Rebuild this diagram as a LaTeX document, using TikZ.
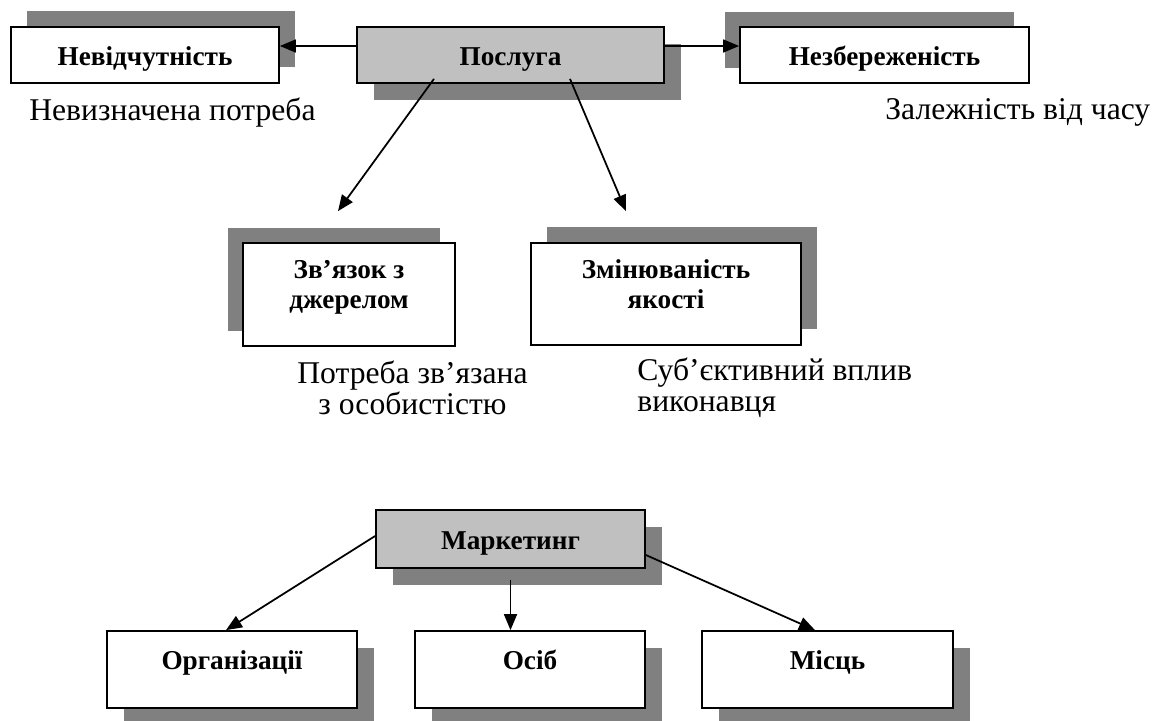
\documentclass[tikz,border=0pt]{standalone}
\usepackage{fontspec}
\setmainfont{Liberation Serif}
\usetikzlibrary{arrows.meta,shadows}
\definecolor{boxgray}{HTML}{C0C0C0}
\definecolor{shadegray}{HTML}{808080}
\tikzset{
  plainbox/.style={rectangle, draw, line width=1pt, fill=white, align=center,
    font=\fontsize{15.5}{17}\selectfont\bfseries},
  keybox/.style={plainbox, fill=boxgray},
  oneline/.style={text height=0.48cm, text depth=0.06cm},
  lowline/.style={text height=0.45cm, text depth=0.45cm},
  cast ne/.style={drop shadow={shadow xshift=0.32cm, shadow yshift=0.32cm, opacity=1, fill=shadegray}},
  cast nw/.style={drop shadow={shadow xshift=-0.31cm, shadow yshift=0.31cm, opacity=1, fill=shadegray}},
  cast se/.style={drop shadow={shadow xshift=0.33cm, shadow yshift=-0.33cm, opacity=1, fill=shadegray}},
  remark/.style={font=\fontsize{18}{17.6}\selectfont, inner sep=0pt},
  link/.style={line width=1pt, -{Triangle[length=0.32cm, width=0.26cm]}}
}
\begin{document}
\begin{tikzpicture}
  \useasboundingbox (0, 0) rectangle (23.3, -14.4);
  % Nodes
  \node (SERV) [keybox, oneline, cast se, minimum width=6.14cm, minimum height=1.12cm] at (10.21, -1.1) {Послуга};
  \node (INTANG) [plainbox, oneline, cast ne, minimum width=5.36cm, minimum height=1.12cm] at (2.9, -1.1) {Невідчутність};
  \node (PERISH) [plainbox, oneline, cast nw, minimum width=5.78cm, minimum height=1.12cm] at (17.69, -1.1) {Незбереженість};
  \node (INSEP) [plainbox, cast nw, minimum width=4.24cm, minimum height=2.06cm] at (6.98, -5.89) {Зв’язок з\\джерелом\\[-0.2cm]};
  \node (VAR) [plainbox, cast ne, minimum width=5.4cm, minimum height=2.04cm] at (13.32, -5.88) {Змінюваність\\якості\\[-0.2cm]};
  \node (MKT) [keybox, oneline, cast se, minimum width=5.38cm, minimum height=1.16cm] at (10.21, -10.78) {Маркетинг};
  \node (ORG) [plainbox, lowline, cast se, minimum width=5cm, minimum height=1.54cm] at (4.64, -13.39) {Організації};
  \node (PERS) [plainbox, lowline, cast se, minimum width=4.6cm, minimum height=1.54cm] at (10.6, -13.39) {Осіб};
  \node (PLACE) [plainbox, lowline, cast se, minimum width=5.02cm, minimum height=1.54cm] at (16.55, -13.39) {Місць};
  % Notes under the boxes
  \node (NEED) [remark, anchor=west] at (0.58, -2.26) {Невизначена потреба};
  \node (TIME) [remark, anchor=west] at (17.7, -2.24) {Залежність від часу};
  \node (PERSONAL) [remark, align=center] at (8.25, -7.75) {Потреба зв’язана\\з особистістю};
  \node (SUBJ) [remark, align=left, anchor=west] at (12.74, -7.75) {Суб’єктивний вплив\\виконавця};
  % Arrows
  \draw[link] ([yshift=0.18cm]SERV.west) -- ([yshift=0.18cm]INTANG.east);
  \draw[link] ([yshift=0.18cm]SERV.east) -- ([yshift=0.18cm]PERISH.west);
  \draw[link] ([shift={(-1.53, 0.1)}]SERV.south) -- ([shift={(-0.22, 0.62)}]INSEP.north);
  \draw[link] ([shift={(1.19, 0.1)}]SERV.south) -- ([shift={(-0.8, 0.62)}]VAR.north);
  \draw[link] ([yshift=0.06cm]MKT.west) -- ([xshift=-0.12cm]ORG.north);
  \draw[link] ([yshift=-0.22cm]MKT.south) -- (MKT.south |- PERS.north);
  \draw[link] ([yshift=-0.32cm]MKT.east) -- ([xshift=-0.25cm]PLACE.north);
\end{tikzpicture}
\end{document}
